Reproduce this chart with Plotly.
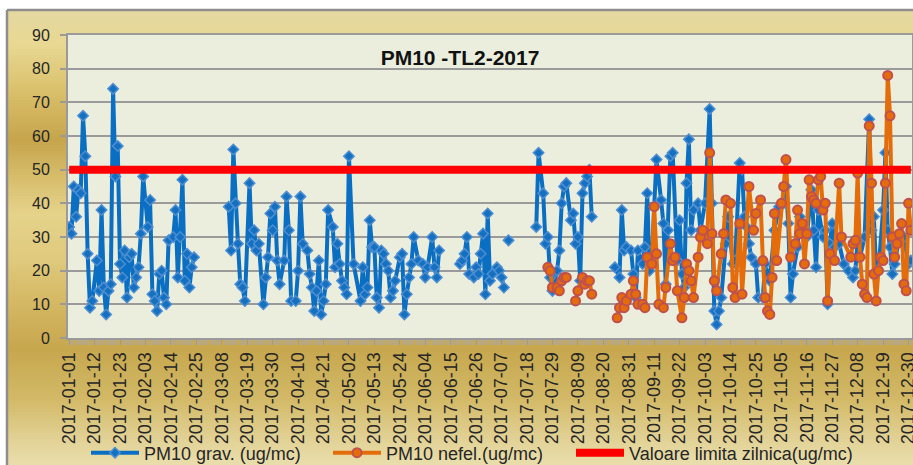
import plotly.graph_objects as go
import pandas as pd

# ---------------- data ----------------
year_start = "2017-01-01"

grav_day = [0, 1, 2, 3, 4, 5, 6, 7, 8, 9, 10, 12, 13, 14, 15, 16, 17, 18, 19, 20, 21, 22, 23, 24, 25, 26,
            27, 28, 29, 30, 31, 32, 34, 35, 36, 37, 38, 39, 40, 41, 42, 43, 45, 46, 47, 48, 49, 50, 51, 52,
            53, 54, 60,
            69, 70, 71, 72, 73, 74, 75, 76, 78, 79, 80, 81, 82, 84, 85, 86, 87, 88, 89, 90, 91, 93, 94, 95,
            96, 98, 99, 100, 101, 103, 104, 105, 106, 107, 108, 109, 110, 111, 112, 114, 115, 116, 117, 118,
            119, 120, 121, 123, 126, 127, 128, 129, 130, 131, 132, 133, 134, 135, 136, 137, 138, 139, 140,
            141, 143, 144, 145, 146, 147, 148, 149, 151, 153, 154, 155, 157, 158, 159, 160, 164,
            169, 170, 171, 172, 173, 175, 176, 177, 178, 179, 180, 181, 182, 183, 185, 186, 187, 188, 189,
            190, 191,
            202, 203, 205, 206, 207, 208, 209, 211, 212, 213, 214, 215, 217, 218, 219, 220, 221, 222, 223,
            224, 225, 226, 230,
            236, 238, 239, 240, 241, 243, 244, 245, 246, 248, 249, 250, 251, 252, 253, 254, 256, 257, 258,
            259, 260, 261, 263, 264, 265, 266, 267, 268, 269, 270, 272, 273, 275, 277, 278, 279, 280, 281,
            282, 284, 285, 287, 288, 290, 291, 292, 293, 294, 295, 297, 298, 300, 301, 303, 305, 307, 309,
            310, 311, 312, 313, 315, 316, 318, 319, 321, 322, 323, 324, 326, 327, 328, 329, 330, 331, 333,
            335, 337, 339, 340, 341, 342, 344, 346, 347, 348, 349, 350, 352, 353, 354, 355, 356, 357, 359,
            361, 363, 364]
grav_val = [33, 31, 45, 36, 44, 43, 66, 54, 25, 9, 11, 23, 14, 38, 15, 7, 14, 16, 74, 48, 57, 22, 18, 26, 12, 24,
            25, 15, 18, 21, 31, 48, 33, 41, 13, 11, 8, 19, 20, 12, 10, 29, 30, 38, 18, 30, 47, 17, 25, 15,
            21, 24, None,
            39, 26, 56, 40, 28, 16, 15, 11, 46, 28, 32, 26, 28, 10, 18, 24, 37, 32, 39, 23, 16, 23, 42, 32,
            11, 11, 20, 42, 28, 26, 19, 15, 8, 14, 23, 7, 11, 16, 38, 33, 21, 28, 22, 17,
            15, 13, 54, 22, 11, 21, 13, 15, 35, 27, 27, 12, 9, 26, 25, 22, 20, 12, 14,
            17, 24, 25, 7, 13, 18, 22, 30, 23, 22, 18, 21, 30, 21, 18, 26, None,
            22, 23, 25, 30, 19, 18, 21, 19, 25, 31, 13, 37, 17, 19, 21, 20, 18, 15, None,
            29, None,
            33, 55, 43, 28, 30, 18, 14, 20, 26, 40, 45, 46, 35, 37, 28, 30, 17, 43, 46,
            48, 50, 36, None,
            21, 18, 38, 26, 27, 26, 19, 12, 26, 22, 27, 43, 20, 22, 39, 53, 41, 34, 16,
            32, 54, 55, 23, 35, 19, 15, 46, 59, 32, 38, 40, 32, 40, 68, 40, 8, 4, 8,
            12, 28, 36, 22, 23, 52, 50, 36, 33, 28, 24, 22, 12, 12, 22, 17, 32, 39, 40,
            45, 34, 12, 19, 27, 36, 32, 30, 44, 32, 21, 38, 30, 32, 10, 28, 34, 27, 28,
            22, 20, 18, 20, 29, 24, 30, 65, 32, 36, 20, 20, 38, 55, 32, 27, 19, 22, 30,
            30, 22, 23]

nefel_day = [207, 208, 209, 211, 212, 213, 214, 215, 217,
             219, 220, 222, 223, 224, 225, 226, 230,
             237, 238, 239, 240, 241, 243, 244, 245, 246, 248, 249, 250, 252, 253, 254, 255, 257, 258,
             260, 261, 262, 263, 265, 266, 267, 268, 269, 270, 272, 273, 274, 276, 277, 278, 279, 280,
             282, 283, 284, 286, 287, 288, 290, 291, 294, 296, 297, 299, 300, 301, 302, 303, 304, 305,
             306, 308, 309, 310, 312, 314, 315, 316, 317, 318, 319, 320, 321, 322, 323, 324, 325, 326,
             327, 328, 329, 331, 333, 334, 338, 339, 340, 341, 342, 343, 344, 345, 346, 347, 348, 349,
             350, 351, 352, 353, 354, 355, 356, 357, 358, 359, 360, 361, 362, 363, 364]
nefel_val = [21, 20, 15, 15, 14, 17, 18, 18, None,
             11, 14, 18, 16, 17, 17, 13, None,
             6, 9, 12, 9, 11, 13, 17, 13, 10, 10, 9, 24, 22, 39, 25, 10, 9, 15,
             28, 23, 24, 14, 6, 12, 22, 20, 17, 12, 24, 30, 32, 28, 55, 31, 17, 14,
             25, 31, 41, 40, 15, 12, 34, 13, 45, 32, 37, 41, 23, 12, 8, 7, 18, 37,
             23, 40, 45, 53, 24, 28, 38, 31, 34, 22, 31, 47, 42, 41, 40, 47, 48, 38,
             40, 11, 25, 23, 46, 30, 24, 28, 29, 49, 24, 16, 13, 12, 63, 46, 19, 11,
             20, 24, 23, 46, 78, 66, 30, 24, 28, 31, 34, 16, 14, 40, 32]

limit_dates = ["2017-01-01", "2017-12-31"]
limit_val = [50, 50]

tick_dates = [str((pd.Timestamp(year_start) + pd.Timedelta(days=11 * k)).date()) for k in range(34)]
tick_labels = ["2017-01-01", "2017-01-12", "2017-01-23", "2017-02-03", "2017-02-14", "2017-02-25",
               "2017-03-08", "2017-03-19", "2017-03-30", "2017-04-10", "2017-04-21", "2017-05-02",
               "2017-05-13", "2017-05-24", "2017-06-04", "2017-06-15", "2017-06-26", "2017-07-07",
               "2017-07-18", "2017-07-29", "2017-08-09", "2017-08-20", "2017-08-31", "2017-09-11",
               "2017-09-22", "2017-10-03", "2017-10-14", "2017-10-25", "2017-11-05", "2017-11-16",
               "2017-11-27", "2017-12-08", "2017-12-19", "2017-12-30"]

series_names = ["PM10 grav. (ug/mc)", "PM10 nefel.(ug/mc)", "Valoare limita zilnica(ug/mc)"]
title_text = "PM10 -TL2-2017"


def to_dates(days):
    return [pd.Timestamp(year_start) + pd.Timedelta(days=d) for d in days]


# ---------------- layout geometry (pixels) ----------------
W_FIG, H_FIG = 913, 465
L, R, T, B = 68, 912, 35, 338
PW, PH = R - L, B - T


def px_x(px):
    return (px - L) / PW


def px_y(py):
    return (B - py) / PH


FONT = "Liberation Sans, Arial, sans-serif"
TXT = "#262626"

fig = go.Figure()

fig.add_trace(go.Scatter(
    x=to_dates(grav_day), y=grav_val, name=series_names[0], mode="lines+markers",
    line=dict(color="#0A6FC2", width=4),
    marker=dict(symbol="diamond", size=8, color="#1570C0", line=dict(color="#4C8ED3", width=1.5)),
    legend="legend",
))
fig.add_trace(go.Scatter(
    x=to_dates(nefel_day), y=nefel_val, name=series_names[1], mode="lines+markers",
    line=dict(color="#E46C0A", width=4),
    marker=dict(symbol="circle", size=9, color="#E46C0A", line=dict(color="#C0504D", width=2)),
    legend="legend2",
))
fig.add_trace(go.Scatter(
    x=limit_dates, y=limit_val, name=series_names[2], mode="lines",
    line=dict(color="#FF0000", width=8),
    legend="legend3",
))

# ---------------- background gradient (chart area) ----------------
grad_stops = [(10, (228, 216, 162)), (45, (232, 216, 146)), (95, (216, 190, 104)),
              (140, (198, 165, 76)), (185, (218, 194, 114)), (215, (229, 211, 139)),
              (260, (223, 201, 124)), (310, (210, 181, 96)), (350, (199, 167, 78)),
              (400, (211, 186, 104)), (440, (226, 210, 150)), (466, (233, 222, 173))]


def color_at(py):
    for (y0, c0), (y1, c1) in zip(grad_stops[:-1], grad_stops[1:]):
        if y0 <= py <= y1:
            f = (py - y0) / (y1 - y0)
            c = [round(a + (b - a) * f) for a, b in zip(c0, c1)]
            return "rgb(%d,%d,%d)" % tuple(c)
    return "rgb(%d,%d,%d)" % grad_stops[-1][1]


shapes = []
step = 3
py = 10
while py < 466:
    shapes.append(dict(type="rect", xref="paper", yref="paper", layer="below",
                       x0=px_x(7), x1=px_x(915), y0=px_y(min(py + step + 0.5, 466)), y1=px_y(py),
                       line=dict(width=0), fillcolor=color_at(py + step / 2)))
    py += step
# plot area background
shapes.append(dict(type="rect", xref="paper", yref="paper", layer="below",
                   x0=0, x1=1, y0=0, y1=1, line=dict(width=0), fillcolor="#EBEEDD"))
# outer frame border
shapes.append(dict(type="line", xref="paper", yref="paper", layer="above",
                   x0=px_x(7), x1=px_x(915), y0=px_y(10), y1=px_y(10),
                   line=dict(color="#8E8E8E", width=2.5)))
shapes.append(dict(type="line", xref="paper", yref="paper", layer="above",
                   x0=px_x(7), x1=px_x(7), y0=px_y(10), y1=px_y(466),
                   line=dict(color="#8E8E8E", width=2.5)))

legend_common = dict(orientation="h", yanchor="middle", xanchor="left",
                     bgcolor="rgba(0,0,0,0)", borderwidth=0, itemwidth=48,
                     font=dict(family=FONT, size=18, color=TXT))

fig.update_layout(
    width=W_FIG, height=H_FIG,
    margin=dict(l=L, r=W_FIG - R, t=T, b=H_FIG - B, autoexpand=False),
    paper_bgcolor="white", plot_bgcolor="rgba(0,0,0,0)",
    shapes=shapes,
    showlegend=True,
    legend=dict(x=px_x(86), y=px_y(453), **legend_common),
    legend2=dict(x=px_x(328), y=px_y(453), **legend_common),
    legend3=dict(x=px_x(571), y=px_y(453), **legend_common),
    title=dict(text=title_text, x=460 / W_FIG, xanchor="center", xref="container",
               y=1 - 58 / H_FIG, yanchor="middle", yref="container",
               font=dict(family=FONT, size=21, color="#111111", weight="bold")),
    xaxis=dict(
        type="date", range=["2016-12-31 12:00", "2017-12-31 12:00"],
        tickvals=tick_dates, ticktext=tick_labels, tickangle=-90,
        tickfont=dict(family=FONT, size=18, color=TXT), ticklabeloverflow="allow",
        ticks="outside", ticklen=5, tickcolor="#9A9A9A", tickwidth=1,
        minor=dict(ticks="outside", dtick=86400000, ticklen=5, tickcolor="#A8A8A8", tickwidth=1,
                   showgrid=False),
        showgrid=False, showline=True, linecolor="#9A9A9A", linewidth=2, mirror=True,
        automargin=False, zeroline=False,
    ),
    yaxis=dict(
        range=[0, 90], dtick=10, tick0=0,
        tickfont=dict(family=FONT, size=16, color=TXT), ticklabelstandoff=7,
        ticks="outside", ticklen=6, tickcolor="#9A9A9A", tickwidth=1.5,
        showgrid=True, gridcolor="#9A9A9A", gridwidth=1.5,
        showline=True, linecolor="#9A9A9A", linewidth=2, mirror=True,
        automargin=False, zeroline=False,
    ),
)

fig.write_html("out.html", config={"displayModeBar": False},
               post_script="document.body.style.margin='0';document.body.style.overflow='hidden';")
